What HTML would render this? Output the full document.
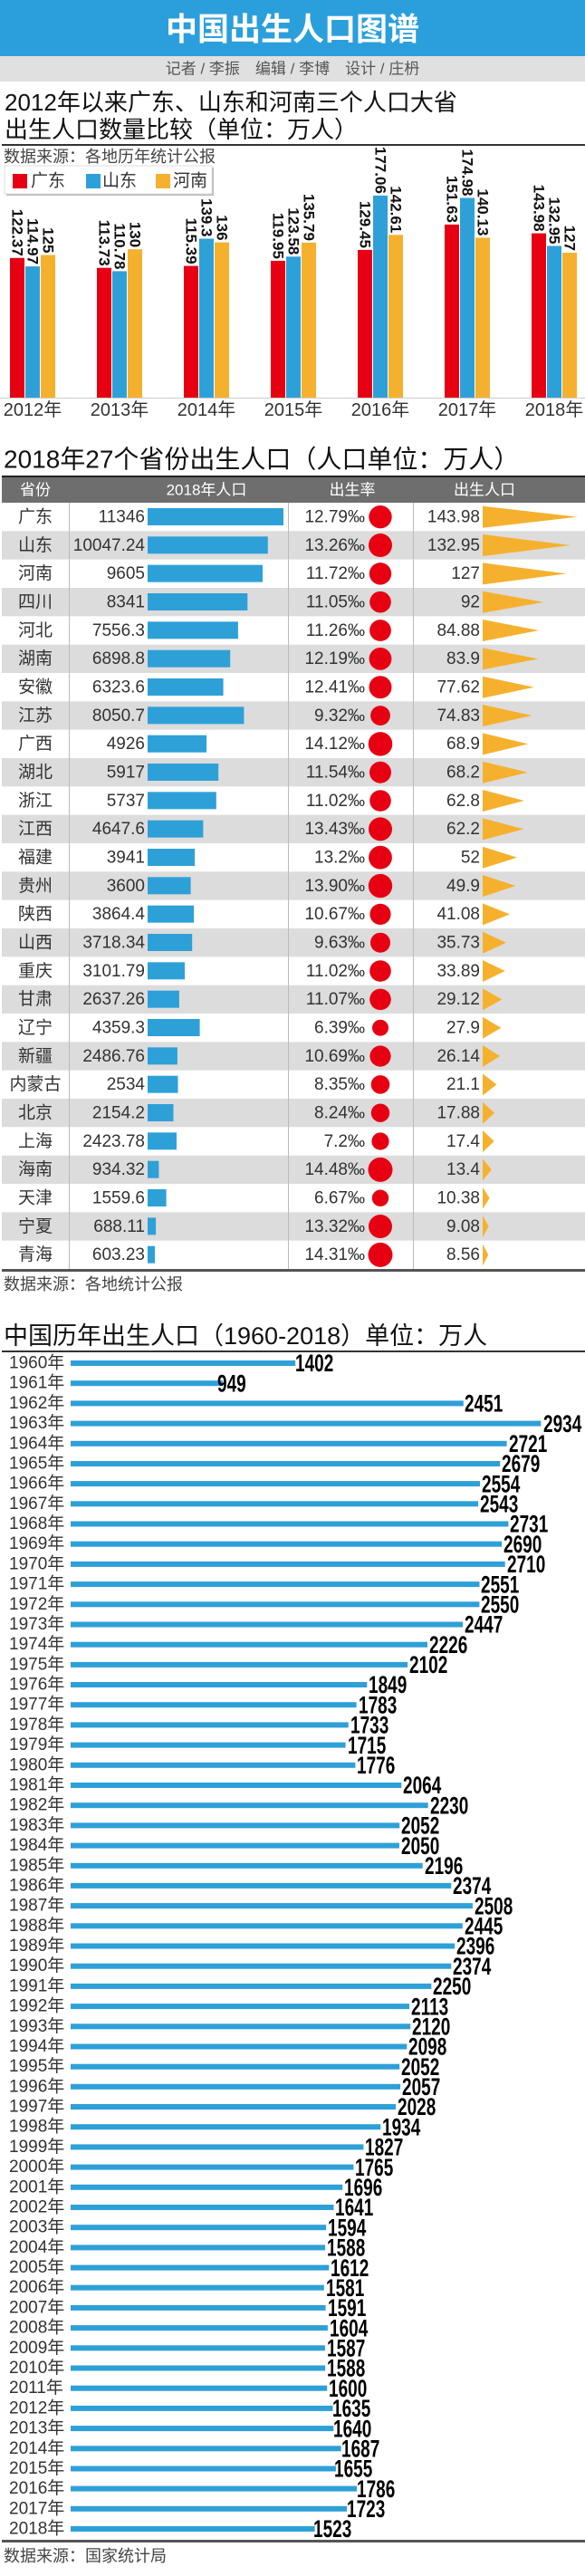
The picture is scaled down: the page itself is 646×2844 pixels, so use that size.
<!DOCTYPE html>
<html><head><meta charset="utf-8"><style>
html,body{margin:0;padding:0;background:#fff;}
svg{display:block;font-family:"Liberation Sans","Noto Sans CJK SC",sans-serif;}
.t{font-size:19px;fill:#333;dominant-baseline:central;}
.e{text-anchor:end;}
.m{text-anchor:middle;}
.v{font-size:17px;font-weight:bold;fill:#111;dominant-baseline:central;text-anchor:end;}
.y{font-size:19px;fill:#333;dominant-baseline:central;}
.n{font-size:19px;font-weight:bold;fill:#000;dominant-baseline:central;}
</style></head><body>
<svg width="646" height="2844" viewBox="0 0 646 2844">
<!-- header -->
<rect x="0" y="0" width="646" height="62" fill="#2b9fdc"/>
<text x="323" y="33" class="m" font-size="35" font-weight="bold" fill="#fff" dominant-baseline="central">中国出生人口图谱</text>
<rect x="0" y="62" width="646" height="28" fill="#e0e0e0"/>
<text x="323" y="76" class="m" font-size="17" fill="#555" dominant-baseline="central">记者 / 李振　编辑 / 李博　设计 / 庄枬</text>

<!-- chart 1 -->
<text x="5" y="113" font-size="26" fill="#111" dominant-baseline="central">2012年以来广东、山东和河南三个人口大省</text>
<text x="5" y="143" font-size="26" fill="#111" dominant-baseline="central">出生人口数量比较（单位：万人）</text>
<rect x="2" y="159" width="644" height="2" fill="#333"/>
<text x="4" y="173" font-size="18" fill="#444" dominant-baseline="central">数据来源：各地历年统计公报</text>
<rect x="7" y="185" width="229" height="31" fill="#bbb"/>
<rect x="5" y="183" width="229" height="31" fill="#fff" stroke="#ddd"/>
<rect x="14" y="192" width="16" height="16" fill="#e60012"/>
<text x="34" y="200" font-size="19" fill="#333" dominant-baseline="central">广东</text>
<rect x="95" y="192" width="16" height="16" fill="#2ea0d8"/>
<text x="113" y="200" font-size="19" fill="#333" dominant-baseline="central">山东</text>
<rect x="172" y="192" width="16" height="16" fill="#f5b12e"/>
<text x="191" y="200" font-size="19" fill="#333" dominant-baseline="central">河南</text>

<g>
<rect x="0" y="439" width="646" height="1" fill="#ccc"/>
<!-- 2012 -->
<rect x="11" y="284.8" width="16" height="154.2" fill="#e60012"/><rect x="28" y="294.1" width="16" height="144.9" fill="#2ea0d8"/><rect x="45" y="281.5" width="16" height="157.5" fill="#f5b12e"/>
<text class="v" transform="translate(19,282.8) rotate(90)">122.37</text><text class="v" transform="translate(36,292.1) rotate(90)">114.97</text><text class="v" transform="translate(53,279.5) rotate(90)">125</text>
<!-- 2013 -->
<rect x="107" y="295.7" width="16" height="143.3" fill="#e60012"/><rect x="124" y="299.4" width="16" height="139.6" fill="#2ea0d8"/><rect x="141" y="275.2" width="16" height="163.8" fill="#f5b12e"/>
<text class="v" transform="translate(115,293.7) rotate(90)">113.73</text><text class="v" transform="translate(132,297.4) rotate(90)">110.78</text><text class="v" transform="translate(149,273.2) rotate(90)">130</text>
<!-- 2014 -->
<rect x="203" y="293.6" width="16" height="145.4" fill="#e60012"/><rect x="220" y="263.5" width="16" height="175.5" fill="#2ea0d8"/><rect x="237" y="267.6" width="16" height="171.4" fill="#f5b12e"/>
<text class="v" transform="translate(211,291.6) rotate(90)">115.39</text><text class="v" transform="translate(228,261.5) rotate(90)">139.3</text><text class="v" transform="translate(245,265.6) rotate(90)">136</text>
<!-- 2015 -->
<rect x="299" y="287.9" width="16" height="151.1" fill="#e60012"/><rect x="316" y="283.3" width="16" height="155.7" fill="#2ea0d8"/><rect x="333" y="267.9" width="16" height="171.1" fill="#f5b12e"/>
<text class="v" transform="translate(307,285.9) rotate(90)">119.95</text><text class="v" transform="translate(324,281.3) rotate(90)">123.58</text><text class="v" transform="translate(341,265.9) rotate(90)">135.79</text>
<!-- 2016 -->
<rect x="395" y="275.9" width="16" height="163.1" fill="#e60012"/><rect x="412" y="215.9" width="16" height="223.1" fill="#2ea0d8"/><rect x="429" y="259.3" width="16" height="179.7" fill="#f5b12e"/>
<text class="v" transform="translate(403,273.9) rotate(90)">129.45</text><text class="v" transform="translate(420,213.9) rotate(90)">177.06</text><text class="v" transform="translate(437,257.3) rotate(90)">142.61</text>
<!-- 2017 -->
<rect x="491" y="247.9" width="16" height="191.1" fill="#e60012"/><rect x="508" y="218.5" width="16" height="220.5" fill="#2ea0d8"/><rect x="525" y="262.4" width="16" height="176.6" fill="#f5b12e"/>
<text class="v" transform="translate(499,245.9) rotate(90)">151.63</text><text class="v" transform="translate(516,216.5) rotate(90)">174.98</text><text class="v" transform="translate(533,260.4) rotate(90)">140.13</text>
<!-- 2018 -->
<rect x="587" y="257.6" width="16" height="181.4" fill="#e60012"/><rect x="604" y="271.5" width="16" height="167.5" fill="#2ea0d8"/><rect x="621" y="279" width="16" height="160" fill="#f5b12e"/>
<text class="v" transform="translate(595,255.6) rotate(90)">143.98</text><text class="v" transform="translate(612,269.5) rotate(90)">132.95</text><text class="v" transform="translate(629,277) rotate(90)">127</text>
<g font-size="20" fill="#333" text-anchor="middle" dominant-baseline="central">
<text x="36" y="453">2012年</text><text x="132" y="453">2013年</text><text x="228" y="453">2014年</text><text x="324" y="453">2015年</text><text x="420" y="453">2016年</text><text x="516" y="453">2017年</text><text x="612" y="453">2018年</text>
</g>
</g>

<!-- table -->
<text x="4" y="507" font-size="28" fill="#111" dominant-baseline="central">2018年27个省份出生人口（人口单位：万人）</text>
<rect x="2" y="526" width="644" height="29" fill="#6e6e6e"/>
<rect x="2" y="525" width="644" height="2" fill="#222"/>
<g font-size="17" fill="#fff" text-anchor="middle" dominant-baseline="central">
<text x="39" y="541">省份</text><text x="228" y="541">2018年人口</text><text x="389" y="541">出生率</text><text x="535" y="541">出生人口</text>
</g>

<g transform="translate(0,555)"><text class="t m" x="39" y="16">广东</text><text class="t e" x="160" y="16">11346</text><rect x="163" y="6" width="150" height="19" fill="#2ea0d8"/><text class="t e" x="403" y="16">12.79‰</text><circle cx="420" cy="15.7" r="12.7" fill="#e60012"/><text class="t e" x="530" y="16">143.98</text><path d="M533,3.7L638,15.7L533,27.7Z" fill="#f5b12e"/></g>
<g transform="translate(0,586.33)"><rect x="2" y="0" width="644" height="31.33" fill="#dcdcdc"/><text class="t m" x="39" y="16">山东</text><text class="t e" x="160" y="16">10047.24</text><rect x="163" y="6" width="132.8" height="19" fill="#2ea0d8"/><text class="t e" x="403" y="16">13.26‰</text><circle cx="420" cy="15.7" r="13" fill="#e60012"/><text class="t e" x="530" y="16">132.95</text><path d="M533,3.7L630,15.7L533,27.7Z" fill="#f5b12e"/></g>
<g transform="translate(0,617.67)"><text class="t m" x="39" y="16">河南</text><text class="t e" x="160" y="16">9605</text><rect x="163" y="6" width="127" height="19" fill="#2ea0d8"/><text class="t e" x="403" y="16">11.72‰</text><circle cx="420" cy="15.7" r="12.2" fill="#e60012"/><text class="t e" x="530" y="16">127</text><path d="M533,3.7L625.7,15.7L533,27.7Z" fill="#f5b12e"/></g>
<g transform="translate(0,649)"><rect x="2" y="0" width="644" height="31.33" fill="#dcdcdc"/><text class="t m" x="39" y="16">四川</text><text class="t e" x="160" y="16">8341</text><rect x="163" y="6" width="110.3" height="19" fill="#2ea0d8"/><text class="t e" x="403" y="16">11.05‰</text><circle cx="420" cy="15.7" r="11.8" fill="#e60012"/><text class="t e" x="530" y="16">92</text><path d="M533,3.7L600.2,15.7L533,27.7Z" fill="#f5b12e"/></g>
<g transform="translate(0,680.33)"><text class="t m" x="39" y="16">河北</text><text class="t e" x="160" y="16">7556.3</text><rect x="163" y="6" width="99.9" height="19" fill="#2ea0d8"/><text class="t e" x="403" y="16">11.26‰</text><circle cx="420" cy="15.7" r="11.9" fill="#e60012"/><text class="t e" x="530" y="16">84.88</text><path d="M533,3.7L595,15.7L533,27.7Z" fill="#f5b12e"/></g>
<g transform="translate(0,711.67)"><rect x="2" y="0" width="644" height="31.33" fill="#dcdcdc"/><text class="t m" x="39" y="16">湖南</text><text class="t e" x="160" y="16">6898.8</text><rect x="163" y="6" width="91.2" height="19" fill="#2ea0d8"/><text class="t e" x="403" y="16">12.19‰</text><circle cx="420" cy="15.7" r="12.4" fill="#e60012"/><text class="t e" x="530" y="16">83.9</text><path d="M533,3.7L594.2,15.7L533,27.7Z" fill="#f5b12e"/></g>
<g transform="translate(0,743)"><text class="t m" x="39" y="16">安徽</text><text class="t e" x="160" y="16">6323.6</text><rect x="163" y="6" width="83.6" height="19" fill="#2ea0d8"/><text class="t e" x="403" y="16">12.41‰</text><circle cx="420" cy="15.7" r="12.5" fill="#e60012"/><text class="t e" x="530" y="16">77.62</text><path d="M533,3.7L589.7,15.7L533,27.7Z" fill="#f5b12e"/></g>
<g transform="translate(0,774.33)"><rect x="2" y="0" width="644" height="31.33" fill="#dcdcdc"/><text class="t m" x="39" y="16">江苏</text><text class="t e" x="160" y="16">8050.7</text><rect x="163" y="6" width="106.4" height="19" fill="#2ea0d8"/><text class="t e" x="403" y="16">9.32‰</text><circle cx="420" cy="15.7" r="10.9" fill="#e60012"/><text class="t e" x="530" y="16">74.83</text><path d="M533,3.7L587.6,15.7L533,27.7Z" fill="#f5b12e"/></g>
<g transform="translate(0,805.67)"><text class="t m" x="39" y="16">广西</text><text class="t e" x="160" y="16">4926</text><rect x="163" y="6" width="65.1" height="19" fill="#2ea0d8"/><text class="t e" x="403" y="16">14.12‰</text><circle cx="420" cy="15.7" r="13.3" fill="#e60012"/><text class="t e" x="530" y="16">68.9</text><path d="M533,3.7L583.3,15.7L533,27.7Z" fill="#f5b12e"/></g>
<g transform="translate(0,837)"><rect x="2" y="0" width="644" height="31.33" fill="#dcdcdc"/><text class="t m" x="39" y="16">湖北</text><text class="t e" x="160" y="16">5917</text><rect x="163" y="6" width="78.2" height="19" fill="#2ea0d8"/><text class="t e" x="403" y="16">11.54‰</text><circle cx="420" cy="15.7" r="12" fill="#e60012"/><text class="t e" x="530" y="16">68.2</text><path d="M533,3.7L582.8,15.7L533,27.7Z" fill="#f5b12e"/></g>
<g transform="translate(0,868.33)"><text class="t m" x="39" y="16">浙江</text><text class="t e" x="160" y="16">5737</text><rect x="163" y="6" width="75.8" height="19" fill="#2ea0d8"/><text class="t e" x="403" y="16">11.02‰</text><circle cx="420" cy="15.7" r="11.8" fill="#e60012"/><text class="t e" x="530" y="16">62.8</text><path d="M533,3.7L578.8,15.7L533,27.7Z" fill="#f5b12e"/></g>
<g transform="translate(0,899.67)"><rect x="2" y="0" width="644" height="31.33" fill="#dcdcdc"/><text class="t m" x="39" y="16">江西</text><text class="t e" x="160" y="16">4647.6</text><rect x="163" y="6" width="61.4" height="19" fill="#2ea0d8"/><text class="t e" x="403" y="16">13.43‰</text><circle cx="420" cy="15.7" r="13" fill="#e60012"/><text class="t e" x="530" y="16">62.2</text><path d="M533,3.7L578.4,15.7L533,27.7Z" fill="#f5b12e"/></g>
<g transform="translate(0,931)"><text class="t m" x="39" y="16">福建</text><text class="t e" x="160" y="16">3941</text><rect x="163" y="6" width="52.1" height="19" fill="#2ea0d8"/><text class="t e" x="403" y="16">13.2‰</text><circle cx="420" cy="15.7" r="12.9" fill="#e60012"/><text class="t e" x="530" y="16">52</text><path d="M533,3.7L571,15.7L533,27.7Z" fill="#f5b12e"/></g>
<g transform="translate(0,962.33)"><rect x="2" y="0" width="644" height="31.33" fill="#dcdcdc"/><text class="t m" x="39" y="16">贵州</text><text class="t e" x="160" y="16">3600</text><rect x="163" y="6" width="47.6" height="19" fill="#2ea0d8"/><text class="t e" x="403" y="16">13.90‰</text><circle cx="420" cy="15.7" r="13.2" fill="#e60012"/><text class="t e" x="530" y="16">49.9</text><path d="M533,3.7L569.4,15.7L533,27.7Z" fill="#f5b12e"/></g>
<g transform="translate(0,993.67)"><text class="t m" x="39" y="16">陕西</text><text class="t e" x="160" y="16">3864.4</text><rect x="163" y="6" width="51.1" height="19" fill="#2ea0d8"/><text class="t e" x="403" y="16">10.67‰</text><circle cx="420" cy="15.7" r="11.6" fill="#e60012"/><text class="t e" x="530" y="16">41.08</text><path d="M533,3.7L563,15.7L533,27.7Z" fill="#f5b12e"/></g>
<g transform="translate(0,1025)"><rect x="2" y="0" width="644" height="31.33" fill="#dcdcdc"/><text class="t m" x="39" y="16">山西</text><text class="t e" x="160" y="16">3718.34</text><rect x="163" y="6" width="49.2" height="19" fill="#2ea0d8"/><text class="t e" x="403" y="16">9.63‰</text><circle cx="420" cy="15.7" r="11" fill="#e60012"/><text class="t e" x="530" y="16">35.73</text><path d="M533,3.7L559.1,15.7L533,27.7Z" fill="#f5b12e"/></g>
<g transform="translate(0,1056.33)"><text class="t m" x="39" y="16">重庆</text><text class="t e" x="160" y="16">3101.79</text><rect x="163" y="6" width="41" height="19" fill="#2ea0d8"/><text class="t e" x="403" y="16">11.02‰</text><circle cx="420" cy="15.7" r="11.8" fill="#e60012"/><text class="t e" x="530" y="16">33.89</text><path d="M533,3.7L557.7,15.7L533,27.7Z" fill="#f5b12e"/></g>
<g transform="translate(0,1087.67)"><rect x="2" y="0" width="644" height="31.33" fill="#dcdcdc"/><text class="t m" x="39" y="16">甘肃</text><text class="t e" x="160" y="16">2637.26</text><rect x="163" y="6" width="34.9" height="19" fill="#2ea0d8"/><text class="t e" x="403" y="16">11.07‰</text><circle cx="420" cy="15.7" r="11.8" fill="#e60012"/><text class="t e" x="530" y="16">29.12</text><path d="M533,3.7L554.3,15.7L533,27.7Z" fill="#f5b12e"/></g>
<g transform="translate(0,1119)"><text class="t m" x="39" y="16">辽宁</text><text class="t e" x="160" y="16">4359.3</text><rect x="163" y="6" width="57.6" height="19" fill="#2ea0d8"/><text class="t e" x="403" y="16">6.39‰</text><circle cx="420" cy="15.7" r="9" fill="#e60012"/><text class="t e" x="530" y="16">27.9</text><path d="M533,3.7L553.4,15.7L533,27.7Z" fill="#f5b12e"/></g>
<g transform="translate(0,1150.33)"><rect x="2" y="0" width="644" height="31.33" fill="#dcdcdc"/><text class="t m" x="39" y="16">新疆</text><text class="t e" x="160" y="16">2486.76</text><rect x="163" y="6" width="32.9" height="19" fill="#2ea0d8"/><text class="t e" x="403" y="16">10.69‰</text><circle cx="420" cy="15.7" r="11.6" fill="#e60012"/><text class="t e" x="530" y="16">26.14</text><path d="M533,3.7L552.1,15.7L533,27.7Z" fill="#f5b12e"/></g>
<g transform="translate(0,1181.67)"><text class="t m" x="39" y="16">内蒙古</text><text class="t e" x="160" y="16">2534</text><rect x="163" y="6" width="33.5" height="19" fill="#2ea0d8"/><text class="t e" x="403" y="16">8.35‰</text><circle cx="420" cy="15.7" r="10.3" fill="#e60012"/><text class="t e" x="530" y="16">21.1</text><path d="M533,3.7L548.4,15.7L533,27.7Z" fill="#f5b12e"/></g>
<g transform="translate(0,1213)"><rect x="2" y="0" width="644" height="31.33" fill="#dcdcdc"/><text class="t m" x="39" y="16">北京</text><text class="t e" x="160" y="16">2154.2</text><rect x="163" y="6" width="28.5" height="19" fill="#2ea0d8"/><text class="t e" x="403" y="16">8.24‰</text><circle cx="420" cy="15.7" r="10.2" fill="#e60012"/><text class="t e" x="530" y="16">17.88</text><path d="M533,3.7L546.1,15.7L533,27.7Z" fill="#f5b12e"/></g>
<g transform="translate(0,1244.33)"><text class="t m" x="39" y="16">上海</text><text class="t e" x="160" y="16">2423.78</text><rect x="163" y="6" width="32" height="19" fill="#2ea0d8"/><text class="t e" x="403" y="16">7.2‰</text><circle cx="420" cy="15.7" r="9.6" fill="#e60012"/><text class="t e" x="530" y="16">17.4</text><path d="M533,3.7L545.7,15.7L533,27.7Z" fill="#f5b12e"/></g>
<g transform="translate(0,1275.67)"><rect x="2" y="0" width="644" height="31.33" fill="#dcdcdc"/><text class="t m" x="39" y="16">海南</text><text class="t e" x="160" y="16">934.32</text><rect x="163" y="6" width="12.4" height="19" fill="#2ea0d8"/><text class="t e" x="403" y="16">14.48‰</text><circle cx="420" cy="15.7" r="13.5" fill="#e60012"/><text class="t e" x="530" y="16">13.4</text><path d="M533,3.7L542.8,15.7L533,27.7Z" fill="#f5b12e"/></g>
<g transform="translate(0,1307)"><text class="t m" x="39" y="16">天津</text><text class="t e" x="160" y="16">1559.6</text><rect x="163" y="6" width="20.6" height="19" fill="#2ea0d8"/><text class="t e" x="403" y="16">6.67‰</text><circle cx="420" cy="15.7" r="9.2" fill="#e60012"/><text class="t e" x="530" y="16">10.38</text><path d="M533,3.7L540.6,15.7L533,27.7Z" fill="#f5b12e"/></g>
<g transform="translate(0,1338.33)"><rect x="2" y="0" width="644" height="31.33" fill="#dcdcdc"/><text class="t m" x="39" y="16">宁夏</text><text class="t e" x="160" y="16">688.11</text><rect x="163" y="6" width="9.1" height="19" fill="#2ea0d8"/><text class="t e" x="403" y="16">13.32‰</text><circle cx="420" cy="15.7" r="13" fill="#e60012"/><text class="t e" x="530" y="16">9.08</text><path d="M533,3.7L539.6,15.7L533,27.7Z" fill="#f5b12e"/></g>
<g transform="translate(0,1369.67)"><text class="t m" x="39" y="16">青海</text><text class="t e" x="160" y="16">603.23</text><rect x="163" y="6" width="8" height="19" fill="#2ea0d8"/><text class="t e" x="403" y="16">14.31‰</text><circle cx="420" cy="15.7" r="13.5" fill="#e60012"/><text class="t e" x="530" y="16">8.56</text><path d="M533,3.7L539.2,15.7L533,27.7Z" fill="#f5b12e"/></g>
<g fill="#bbb"><rect x="76" y="555" width="1" height="846"/><rect x="318" y="555" width="1" height="846"/><rect x="456" y="555" width="1" height="846"/></g>
<rect x="2" y="1401" width="644" height="3" fill="#555"/>
<text x="4" y="1418" font-size="18" fill="#444" dominant-baseline="central">数据来源：各地统计公报</text>

<!-- chart 3 -->
<text x="4" y="1475" font-size="27" fill="#111" dominant-baseline="central">中国历年出生人口（1960-2018）单位：万人</text>
<rect x="2" y="1491" width="644" height="2" fill="#333"/>
<g fill="#2ea0d8">
<rect x="78" y="1502" width="248.2" height="6"/><rect x="78" y="1524.2" width="168" height="6"/><rect x="78" y="1546.4" width="433.8" height="6"/><rect x="78" y="1568.6" width="519.3" height="6"/><rect x="78" y="1590.8" width="481.6" height="6"/><rect x="78" y="1613" width="474.2" height="6"/><rect x="78" y="1635.1" width="452.1" height="6"/><rect x="78" y="1657.3" width="450.1" height="6"/><rect x="78" y="1679.5" width="483.4" height="6"/><rect x="78" y="1701.7" width="476.1" height="6"/>
<rect x="78" y="1723.9" width="479.7" height="6"/><rect x="78" y="1746.1" width="451.5" height="6"/><rect x="78" y="1768.3" width="451.4" height="6"/><rect x="78" y="1790.5" width="433.1" height="6"/><rect x="78" y="1812.7" width="394" height="6"/><rect x="78" y="1834.9" width="372.1" height="6"/><rect x="78" y="1857" width="327.3" height="6"/><rect x="78" y="1879.2" width="315.6" height="6"/><rect x="78" y="1901.4" width="306.7" height="6"/><rect x="78" y="1923.6" width="303.6" height="6"/>
<rect x="78" y="1945.8" width="314.4" height="6"/><rect x="78" y="1968" width="365.3" height="6"/><rect x="78" y="1990.2" width="394.7" height="6"/><rect x="78" y="2012.4" width="363.2" height="6"/><rect x="78" y="2034.6" width="362.9" height="6"/><rect x="78" y="2056.8" width="388.7" height="6"/><rect x="78" y="2078.9" width="420.2" height="6"/><rect x="78" y="2101.1" width="443.9" height="6"/><rect x="78" y="2123.3" width="432.8" height="6"/><rect x="78" y="2145.5" width="424.1" height="6"/>
<rect x="78" y="2167.7" width="420.2" height="6"/><rect x="78" y="2189.9" width="398.3" height="6"/><rect x="78" y="2212.1" width="374" height="6"/><rect x="78" y="2234.3" width="375.2" height="6"/><rect x="78" y="2256.5" width="371.3" height="6"/><rect x="78" y="2278.7" width="363.2" height="6"/><rect x="78" y="2300.8" width="364.1" height="6"/><rect x="78" y="2323" width="359" height="6"/><rect x="78" y="2345.2" width="342.3" height="6"/><rect x="78" y="2367.4" width="323.4" height="6"/>
<rect x="78" y="2389.6" width="312.4" height="6"/><rect x="78" y="2411.8" width="300.2" height="6"/><rect x="78" y="2434" width="290.5" height="6"/><rect x="78" y="2456.2" width="282.1" height="6"/><rect x="78" y="2478.4" width="281.1" height="6"/><rect x="78" y="2500.6" width="285.3" height="6"/><rect x="78" y="2522.7" width="279.8" height="6"/><rect x="78" y="2544.9" width="281.6" height="6"/><rect x="78" y="2567.1" width="283.9" height="6"/><rect x="78" y="2589.3" width="280.9" height="6"/>
<rect x="78" y="2611.5" width="281.1" height="6"/><rect x="78" y="2633.7" width="283.2" height="6"/><rect x="78" y="2655.9" width="289.4" height="6"/><rect x="78" y="2678.1" width="290.3" height="6"/><rect x="78" y="2700.3" width="298.6" height="6"/><rect x="78" y="2722.5" width="292.9" height="6"/><rect x="78" y="2744.6" width="316.1" height="6"/><rect x="78" y="2766.8" width="305" height="6"/><rect x="78" y="2789" width="269.6" height="6"/>
</g>
<g class="y">
<text class="y" x="10" y="1505">1960年</text><text class="y" x="10" y="1527.2">1961年</text><text class="y" x="10" y="1549.4">1962年</text><text class="y" x="10" y="1571.6">1963年</text><text class="y" x="10" y="1593.8">1964年</text><text class="y" x="10" y="1616">1965年</text><text class="y" x="10" y="1638.1">1966年</text><text class="y" x="10" y="1660.3">1967年</text><text class="y" x="10" y="1682.5">1968年</text><text class="y" x="10" y="1704.7">1969年</text>
<text class="y" x="10" y="1726.9">1970年</text><text class="y" x="10" y="1749.1">1971年</text><text class="y" x="10" y="1771.3">1972年</text><text class="y" x="10" y="1793.5">1973年</text><text class="y" x="10" y="1815.7">1974年</text><text class="y" x="10" y="1837.9">1975年</text><text class="y" x="10" y="1860">1976年</text><text class="y" x="10" y="1882.2">1977年</text><text class="y" x="10" y="1904.4">1978年</text><text class="y" x="10" y="1926.6">1979年</text>
<text class="y" x="10" y="1948.8">1980年</text><text class="y" x="10" y="1971">1981年</text><text class="y" x="10" y="1993.2">1982年</text><text class="y" x="10" y="2015.4">1983年</text><text class="y" x="10" y="2037.6">1984年</text><text class="y" x="10" y="2059.8">1985年</text><text class="y" x="10" y="2081.9">1986年</text><text class="y" x="10" y="2104.1">1987年</text><text class="y" x="10" y="2126.3">1988年</text><text class="y" x="10" y="2148.5">1989年</text>
<text class="y" x="10" y="2170.7">1990年</text><text class="y" x="10" y="2192.9">1991年</text><text class="y" x="10" y="2215.1">1992年</text><text class="y" x="10" y="2237.3">1993年</text><text class="y" x="10" y="2259.5">1994年</text><text class="y" x="10" y="2281.7">1995年</text><text class="y" x="10" y="2303.8">1996年</text><text class="y" x="10" y="2326">1997年</text><text class="y" x="10" y="2348.2">1998年</text><text class="y" x="10" y="2370.4">1999年</text>
<text class="y" x="10" y="2392.6">2000年</text><text class="y" x="10" y="2414.8">2001年</text><text class="y" x="10" y="2437">2002年</text><text class="y" x="10" y="2459.2">2003年</text><text class="y" x="10" y="2481.4">2004年</text><text class="y" x="10" y="2503.6">2005年</text><text class="y" x="10" y="2525.7">2006年</text><text class="y" x="10" y="2547.9">2007年</text><text class="y" x="10" y="2570.1">2008年</text><text class="y" x="10" y="2592.3">2009年</text>
<text class="y" x="10" y="2614.5">2010年</text><text class="y" x="10" y="2636.7">2011年</text><text class="y" x="10" y="2658.9">2012年</text><text class="y" x="10" y="2681.1">2013年</text><text class="y" x="10" y="2703.3">2014年</text><text class="y" x="10" y="2725.5">2015年</text><text class="y" x="10" y="2747.6">2016年</text><text class="y" x="10" y="2769.8">2017年</text><text class="y" x="10" y="2792">2018年</text>
</g>
<g>
<text class="n" transform="translate(326,1505) scale(1,1.4)">1402</text><text class="n" transform="translate(240,1527.2) scale(1,1.4)">949</text><text class="n" transform="translate(513,1549.4) scale(1,1.4)">2451</text><text class="n" transform="translate(600,1571.6) scale(1,1.4)">2934</text><text class="n" transform="translate(562,1593.8) scale(1,1.4)">2721</text><text class="n" transform="translate(554,1616) scale(1,1.4)">2679</text><text class="n" transform="translate(532,1638.1) scale(1,1.4)">2554</text><text class="n" transform="translate(530,1660.3) scale(1,1.4)">2543</text><text class="n" transform="translate(563,1682.5) scale(1,1.4)">2731</text><text class="n" transform="translate(556,1704.7) scale(1,1.4)">2690</text>
<text class="n" transform="translate(560,1726.9) scale(1,1.4)">2710</text><text class="n" transform="translate(531,1749.1) scale(1,1.4)">2551</text><text class="n" transform="translate(531,1771.3) scale(1,1.4)">2550</text><text class="n" transform="translate(513,1793.5) scale(1,1.4)">2447</text><text class="n" transform="translate(474,1815.7) scale(1,1.4)">2226</text><text class="n" transform="translate(452,1837.9) scale(1,1.4)">2102</text><text class="n" transform="translate(407,1860) scale(1,1.4)">1849</text><text class="n" transform="translate(396,1882.2) scale(1,1.4)">1783</text><text class="n" transform="translate(387,1904.4) scale(1,1.4)">1733</text><text class="n" transform="translate(384,1926.6) scale(1,1.4)">1715</text>
<text class="n" transform="translate(394,1948.8) scale(1,1.4)">1776</text><text class="n" transform="translate(445,1971) scale(1,1.4)">2064</text><text class="n" transform="translate(475,1993.2) scale(1,1.4)">2230</text><text class="n" transform="translate(443,2015.4) scale(1,1.4)">2052</text><text class="n" transform="translate(443,2037.6) scale(1,1.4)">2050</text><text class="n" transform="translate(469,2059.8) scale(1,1.4)">2196</text><text class="n" transform="translate(500,2081.9) scale(1,1.4)">2374</text><text class="n" transform="translate(524,2104.1) scale(1,1.4)">2508</text><text class="n" transform="translate(513,2126.3) scale(1,1.4)">2445</text><text class="n" transform="translate(504,2148.5) scale(1,1.4)">2396</text>
<text class="n" transform="translate(500,2170.7) scale(1,1.4)">2374</text><text class="n" transform="translate(478,2192.9) scale(1,1.4)">2250</text><text class="n" transform="translate(454,2215.1) scale(1,1.4)">2113</text><text class="n" transform="translate(455,2237.3) scale(1,1.4)">2120</text><text class="n" transform="translate(451,2259.5) scale(1,1.4)">2098</text><text class="n" transform="translate(443,2281.7) scale(1,1.4)">2052</text><text class="n" transform="translate(444,2303.8) scale(1,1.4)">2057</text><text class="n" transform="translate(439,2326) scale(1,1.4)">2028</text><text class="n" transform="translate(422,2348.2) scale(1,1.4)">1934</text><text class="n" transform="translate(403,2370.4) scale(1,1.4)">1827</text>
<text class="n" transform="translate(392,2392.6) scale(1,1.4)">1765</text><text class="n" transform="translate(380,2414.8) scale(1,1.4)">1696</text><text class="n" transform="translate(370,2437) scale(1,1.4)">1641</text><text class="n" transform="translate(362,2459.2) scale(1,1.4)">1594</text><text class="n" transform="translate(361,2481.4) scale(1,1.4)">1588</text><text class="n" transform="translate(365,2503.6) scale(1,1.4)">1612</text><text class="n" transform="translate(360,2525.7) scale(1,1.4)">1581</text><text class="n" transform="translate(362,2547.9) scale(1,1.4)">1591</text><text class="n" transform="translate(364,2570.1) scale(1,1.4)">1604</text><text class="n" transform="translate(361,2592.3) scale(1,1.4)">1587</text>
<text class="n" transform="translate(361,2614.5) scale(1,1.4)">1588</text><text class="n" transform="translate(363,2636.7) scale(1,1.4)">1600</text><text class="n" transform="translate(367,2658.9) scale(1,1.4)">1635</text><text class="n" transform="translate(368,2681.1) scale(1,1.4)">1640</text><text class="n" transform="translate(377,2703.3) scale(1,1.4)">1687</text><text class="n" transform="translate(369,2725.5) scale(1,1.4)">1655</text><text class="n" transform="translate(394,2747.6) scale(1,1.4)">1786</text><text class="n" transform="translate(383,2769.8) scale(1,1.4)">1723</text><text class="n" transform="translate(346,2792) scale(1,1.4)">1523</text>
</g>
<rect x="2" y="2804" width="644" height="3" fill="#555"/>
<text x="4" y="2822" font-size="18" fill="#444" dominant-baseline="central">数据来源：国家统计局</text>
</svg>
</body></html>
